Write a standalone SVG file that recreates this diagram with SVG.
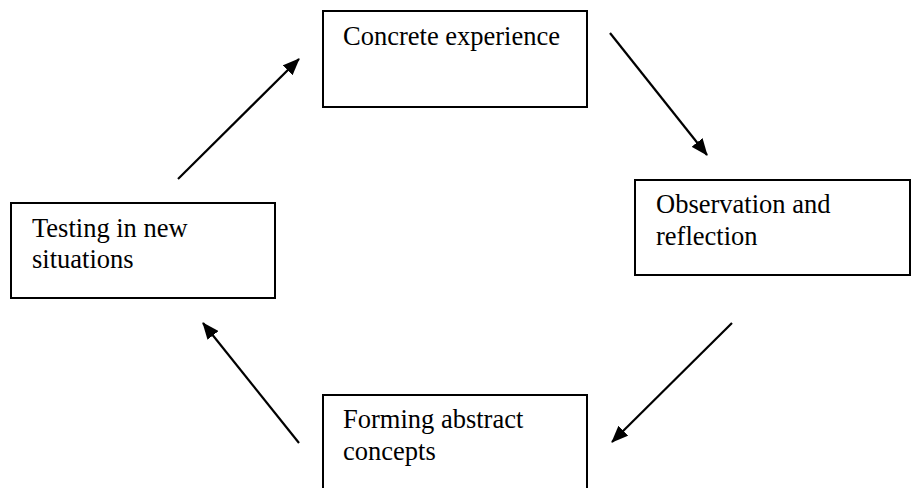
<svg xmlns="http://www.w3.org/2000/svg" width="912" height="488" viewBox="0 0 912 488">
<style>
.box{fill:#fff;stroke:#000;stroke-width:2}
.lbl{font-family:"Liberation Serif","Times New Roman",serif;font-size:26.5px;fill:#000}
.arr{stroke:#000;stroke-width:2.2;fill:none;marker-end:url(#ah)}
</style>
<defs>
<marker id="ah" viewBox="0 0 17 14" refX="16" refY="7" markerWidth="17" markerHeight="14" markerUnits="userSpaceOnUse" orient="auto">
<path d="M0,0 L17,7 L0,14 z" fill="#000"/>
</marker>
</defs>
<rect width="912" height="488" fill="#fff"/>
<g id="n1">
<rect class="box" x="323" y="11" width="264" height="96"/>
<text class="lbl" x="343" y="45">Concrete experience</text>
</g>
<g id="n2">
<rect class="box" x="635" y="180" width="275" height="95"/>
<text class="lbl" x="656" y="213">Observation and</text>
<text class="lbl" x="656" y="245">reflection</text>
</g>
<g id="n3">
<rect class="box" x="11" y="203" width="264" height="95"/>
<text class="lbl" x="32" y="237">Testing in new</text>
<text class="lbl" x="32" y="268">situations</text>
</g>
<g id="n4">
<rect class="box" x="323" y="395" width="264" height="100"/>
<text class="lbl" x="343" y="428">Forming abstract</text>
<text class="lbl" x="343" y="460">concepts</text>
</g>
<g id="connectors">
<line class="arr" x1="178" y1="179" x2="299" y2="59"/>
<line class="arr" x1="610" y1="33" x2="707" y2="155"/>
<line class="arr" x1="732" y1="323" x2="612" y2="442"/>
<line class="arr" x1="299" y1="443" x2="203" y2="323"/>
</g>
</svg>
